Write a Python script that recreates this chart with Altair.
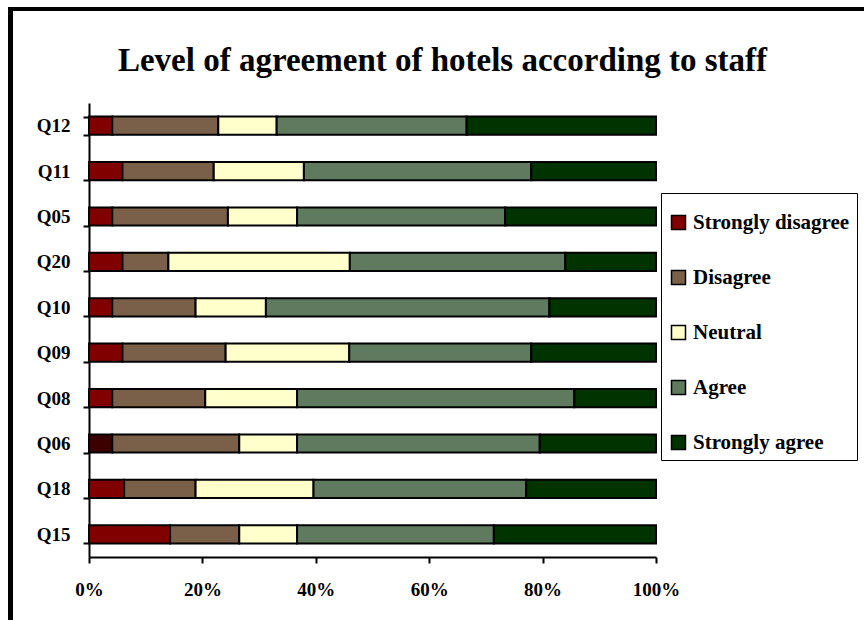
import altair as alt
import pandas as pd

questions = ["Q12", "Q11", "Q05", "Q20", "Q10", "Q09", "Q08", "Q06", "Q18", "Q15"]
levels = ["Strongly disagree", "Disagree", "Neutral", "Agree", "Strongly agree"]
strongly_disagree = [4.1, 5.9, 4.1, 5.9, 4.1, 5.9, 4.1, 4.1, 6.2, 14.3]
disagree = [18.7, 16.1, 20.4, 8.1, 14.7, 18.2, 16.4, 22.4, 12.6, 12.2]
neutral = [10.3, 15.9, 12.2, 32.0, 12.4, 21.8, 16.2, 10.2, 20.8, 10.2]
agree = [33.5, 40.1, 36.7, 38.0, 50.0, 32.1, 48.9, 42.8, 37.5, 34.7]
strongly_agree = [33.4, 22.0, 26.6, 16.0, 18.8, 22.0, 14.4, 20.5, 22.9, 28.6]
colors = ["#800000", "#7b6049", "#ffffcc", "#5f7a5f", "#003300"]
x_ticks = [0, 0.2, 0.4, 0.6, 0.8, 1.0]

series = [strongly_disagree, disagree, neutral, agree, strongly_agree]
rows = []
for li, (lev, vals) in enumerate(zip(levels, series)):
    for q, v in zip(questions, vals):
        rows.append({"question": q, "level": lev, "idx": li, "value": v})
df = pd.DataFrame(rows)

FONT = "Liberation Serif"

bars = alt.Chart(df).mark_bar(stroke="black", strokeWidth=2).encode(
    x=alt.X("value:Q", stack="normalize",
            scale=alt.Scale(domain=[0, 1], nice=False),
            axis=alt.Axis(format=".0%", values=x_ticks, title=None, grid=False,
                          labelFont=FONT, labelFontWeight="bold", labelFontSize=19,
                          labelColor="black", labelPadding=17, tickSize=6,
                          tickWidth=2, tickColor="black", domainColor="black",
                          domainWidth=2, labelFlush=False)),
    y=alt.Y("question:N", sort=questions,
            scale=alt.Scale(paddingInner=0.6, paddingOuter=0.3),
            axis=alt.Axis(title=None, grid=False, tickBand="extent",
                          labelFont=FONT, labelFontWeight="bold", labelFontSize=19,
                          labelColor="black", labelPadding=13, tickSize=6,
                          tickWidth=2, tickColor="black", domainColor="black",
                          domainWidth=2)),
    color=alt.condition(
        (alt.datum.question == "Q06") & (alt.datum.level == "Strongly disagree"),
        alt.value("#3d0000"),
        alt.Color("level:N", sort=levels,
                  scale=alt.Scale(domain=levels, range=colors),
                  legend=alt.Legend(title=" ", titleFontSize=9, titlePadding=3,
                                    orient="none", legendX=572, legendY=90,
                                    strokeColor="black", padding=7,
                                    symbolType="square", symbolSize=196,
                                    symbolStrokeColor="black", symbolStrokeWidth=1.5,
                                    labelFont=FONT, labelFontWeight="bold",
                                    labelFontSize=21, labelColor="black",
                                    labelLimit=400, labelOffset=4, rowPadding=33))),
    order=alt.Order("idx:Q"),
)

frame_top = alt.Chart(alt.Data(values=[{"k": 1}])).mark_rule(
    color="black", strokeWidth=4).encode(
    x=alt.value(-81), x2=alt.value(800), y=alt.value(-94))
frame_left = alt.Chart(alt.Data(values=[{"k": 1}])).mark_rule(
    color="black", strokeWidth=5).encode(
    x=alt.value(-78.5), y=alt.value(-96), y2=alt.value(540))

chart = alt.layer(bars, frame_top, frame_left).properties(
    width=567, height=454,
    title=alt.TitleParams("Level of agreement of hotels according to staff",
                          font=FONT, fontSize=33, fontWeight="bold", color="black",
                          anchor="middle", frame="group", baseline="alphabetic",
                          offset=0, dx=70, dy=99),
    autosize=alt.AutoSizeParams(type="none"),
    padding={"left": 89, "top": 103, "right": 208, "bottom": 63},
).configure_view(strokeWidth=0)

chart.save("out.html", embed_options={"renderer": "svg", "actions": False})
